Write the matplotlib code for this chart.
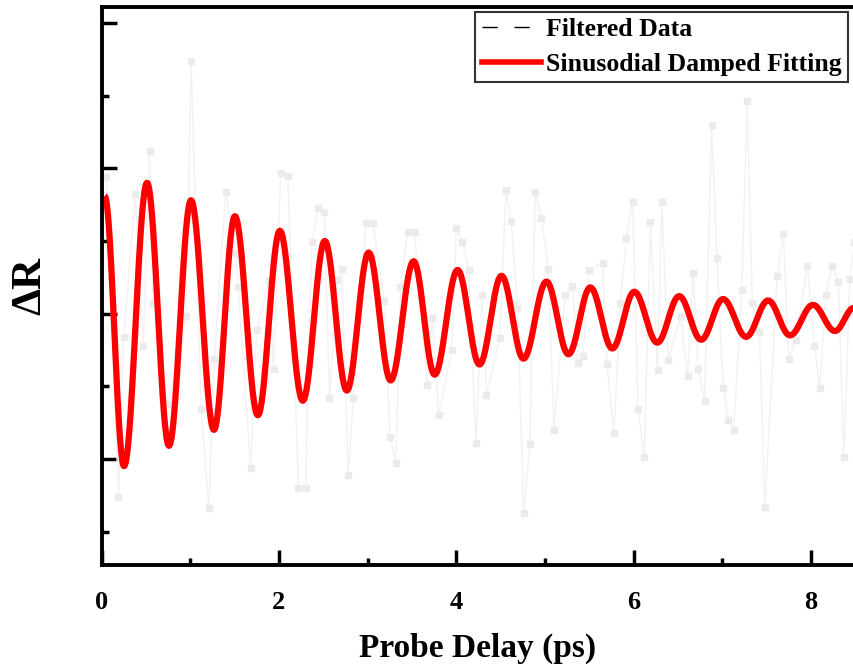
import numpy as np
import matplotlib
matplotlib.use('Agg')
import matplotlib.pyplot as plt
from matplotlib.lines import Line2D
from matplotlib.ticker import MultipleLocator, NullFormatter

plt.rcParams['font.family'] = ['Liberation Serif', 'DejaVu Serif']
plt.rcParams['font.weight'] = 'bold'

# filtered data (probe delay in ps, dR in arbitrary units)
data_t = [0.05, 0.19, 0.25, 0.38, 0.47, 0.54, 0.58, 0.75, 0.95, 1.01, 1.12, 1.21,
          1.27, 1.40, 1.52, 1.54, 1.68, 1.75, 1.89, 1.94, 2.02, 2.10, 2.22, 2.30,
          2.37, 2.44, 2.51, 2.57, 2.66, 2.71, 2.78, 2.84, 2.98, 3.06, 3.19, 3.25,
          3.32, 3.37, 3.45, 3.53, 3.67, 3.73, 3.80, 3.95, 4.00, 4.07, 4.14, 4.22,
          4.29, 4.34, 4.49, 4.56, 4.62, 4.69, 4.76, 4.83, 4.89, 4.96, 5.04, 5.10,
          5.23, 5.31, 5.37, 5.43, 5.50, 5.65, 5.70, 5.78, 5.85, 5.92, 5.99, 6.05,
          6.12, 6.19, 6.27, 6.32, 6.39, 6.53, 6.61, 6.67, 6.73, 6.80, 6.88, 6.94,
          7.01, 7.07, 7.13, 7.22, 7.28, 7.34, 7.42, 7.48, 7.62, 7.69, 7.75, 7.83,
          7.96, 8.04, 8.10, 8.17, 8.24, 8.31, 8.37, 8.44, 8.49]
data_r = [0.94, -1.26, -0.16, 0.82, -0.22, 1.12, 0.07, -0.62, -0.02, 1.74, -0.66, -1.34,
          -0.31, 0.84, 0.42, 0.18, -1.06, -0.11, 0.23, -0.38, 0.97, 0.95, -1.20, -1.20,
          0.49, 0.73, 0.70, -0.58, 0.23, 0.31, -1.11, -0.58, 0.62, 0.62, 0.09, -0.85,
          -1.03, 0.18, 0.56, 0.56, -0.49, -0.03, -0.70, -0.25, 0.59, 0.49, 0.30, -0.89,
          0.13, -0.56, -0.17, 0.85, 0.64, 0.04, -1.37, -0.90, 0.84, 0.66, 0.31, -0.80,
          0.13, 0.19, -0.34, -0.29, 0.30, 0.35, -0.35, -0.82, 0.07, 0.52, 0.77, -0.66,
          -0.99, 0.63, -0.39, 0.77, -0.32, -0.02, -0.43, 0.28, -0.38, -0.60, 1.30, 0.38,
          -0.51, -0.73, -0.80, 0.16, 1.46, 0.07, -0.13, -1.33, 0.26, 0.55, -0.31, -0.18,
          0.33, -0.22, -0.51, 0.13, 0.33, 0.22, -0.99, 0.24, 0.49]

# damped fit: start, alternating troughs/peaks, end
fit_t = [0.034, 0.253, 0.512, 0.760, 1.008, 1.267, 1.503, 1.762, 2.010, 2.269,
         2.517, 2.765, 3.012, 3.260, 3.519, 3.756, 4.015, 4.262, 4.510, 4.758,
         5.017, 5.265, 5.512, 5.760, 6.008, 6.267, 6.514, 6.762, 7.009, 7.269,
         7.517, 7.764, 8.023, 8.271, 8.485]
fit_r = [0.81, -1.05, 0.90, -0.91, 0.78, -0.80, 0.67, -0.70, 0.57, -0.60,
         0.50, -0.53, 0.42, -0.46, 0.36, -0.42, 0.30, -0.35, 0.26, -0.31,
         0.22, -0.28, 0.18, -0.24, 0.15, -0.20, 0.12, -0.18, 0.10, -0.16,
         0.09, -0.15, 0.06, -0.12, 0.04]

# smooth half-wave between the read extrema
s = np.linspace(0, 1, 40)
curve_t, curve_r = [], []
for i in range(len(fit_t) - 1):
    w = (1 - np.cos(np.pi * s)) / 2
    curve_t.extend(fit_t[i] + (fit_t[i + 1] - fit_t[i]) * s)
    curve_r.extend(fit_r[i] + (fit_r[i + 1] - fit_r[i]) * w)

fig = plt.figure(figsize=(8.54, 6.66), dpi=100)
ax = fig.add_axes([0.119, 0.1517, 0.881, 0.8378])

ax.plot(data_t, data_r, color='#f2f2f2', lw=1, marker='s', ms=4.5,
        mfc='#ebebeb', mec='#ebebeb')
ax.plot(curve_t, curve_r, color='#ff0000', lw=4.5, solid_capstyle='butt')

ax.set_xlim(0, 8.486)
ax.set_ylim(-1.73, 2.11)
ax.xaxis.set_major_locator(MultipleLocator(2))
ax.xaxis.set_minor_locator(MultipleLocator(1))
ax.yaxis.set_major_locator(MultipleLocator(1))
ax.yaxis.set_minor_locator(MultipleLocator(0.5))
ax.yaxis.set_major_formatter(NullFormatter())

ax.tick_params(which='both', direction='in', width=2.5, colors='black')
ax.tick_params(which='major', length=11)
ax.tick_params(which='minor', length=5)
ax.tick_params(axis='x', labelsize=19, pad=19)
for lab in ax.get_xticklabels():
    lab.set_fontweight('bold')

for side in ['left', 'bottom', 'top']:
    ax.spines[side].set_linewidth(2.8)
ax.spines['right'].set_visible(False)

ax.set_xlabel('Probe Delay (ps)', fontsize=24, fontweight='bold', labelpad=13)
ax.set_ylabel('ΔR', fontsize=31, fontweight='bold', labelpad=34)

handles = [Line2D([], [], color='black', lw=1, linestyle=(0, (11, 12))),
           Line2D([], [], color='#ff0000', lw=4)]
leg = fig.legend(handles, ['Filtered Data', 'Sinusodial Damped Fitting'],
                 loc='upper right', bbox_to_anchor=(0.993, 0.982),
                 prop={'family': 'Liberation Serif', 'weight': 'bold', 'size': 18.5},
                 frameon=True, fancybox=False, edgecolor='black',
                 handlelength=2.3, handletextpad=0.2, borderpad=0.25,
                 labelspacing=0.45, borderaxespad=0)
leg.get_frame().set_linewidth(1.5)

fig.savefig('out.png', dpi=100)
